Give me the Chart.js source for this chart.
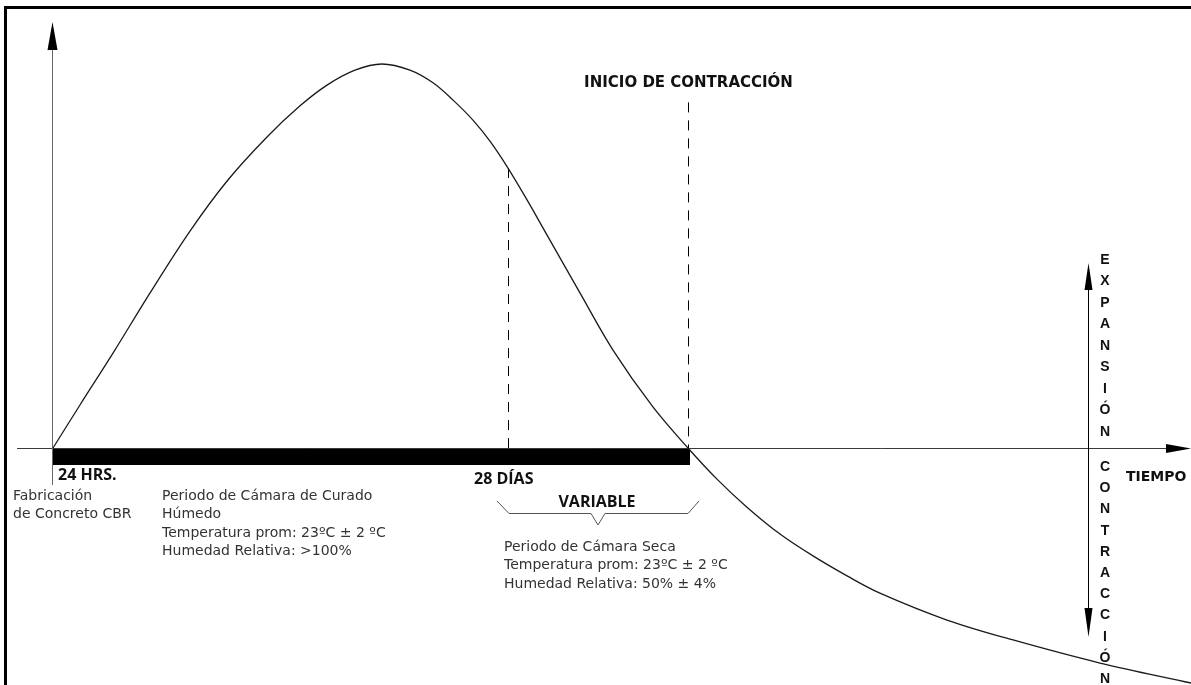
<!DOCTYPE html>
<html>
<head>
<meta charset="utf-8">
<script src="https://cdn.jsdelivr.net/npm/chart.js@4/dist/chart.umd.min.js"></script>
<style>
html,body{margin:0;padding:0;background:#fff;}
canvas{display:block;}
</style>
</head>
<body>
<canvas id="c" width="1191" height="685"></canvas>
<script>
// Curve: time (days) vs relative expansion (+) / contraction (-)
const curveDays   = [1.00, 2.60, 4.56, 6.76, 9.13, 11.38, 13.70, 15.66, 17.26, 18.92, 20.52, 22.18, 23.55, 24.74, 25.92, 26.93, 28.00, 29.13, 30.31, 32.27, 34.23, 36.60, 38.68, 40.40, 42.18, 44.14, 46.10, 48.12, 50.07, 54.05, 57.97, 63.13, 68.53];
const curveValues = [0, 11.2, 24.7, 40.4, 56.5, 69.8, 81.0, 89.1, 94.5, 98.4, 100, 98.4, 95.1, 90.6, 85.4, 79.9, 72.9, 64.6, 55.5, 40.4, 25.5, 10.7, 0, -8.1, -15.4, -22.4, -28.1, -33.3, -37.8, -44.8, -50.0, -56.0, -61.2];

// Milestones on the time axis
const milestoneDays   = [1, 28, 38.68];
const milestoneLabels = ['24 HRS.', '28 DÍAS', 'INICIO DE CONTRACCIÓN'];
const variableLabel = 'VARIABLE';
const inicioDashTop = 90;
const rightAxisDay = 62.42;

const axisTimeLabel = 'TIEMPO';
const expansionLabel = 'EXPANSIÓN';
const contractionLabel = 'CONTRACCIÓN';

const leftNote = ['Fabricación', 'de Concreto CBR'];
const curingNote = ['Periodo de Cámara de Curado', 'Húmedo', 'Temperatura prom: 23ºC ± 2 ºC', 'Humedad Relativa: >100%'];
const dryNote = ['Periodo de Cámara Seca', 'Temperatura prom: 23ºC ± 2 ºC', 'Humedad Relativa: 50% ± 4%'];

const X_MIN = -2.145, X_MAX = 68.53;
const Y_MIN = -61.72, Y_MAX = 116.67;

function arrow(ctx, tx, ty, bx, by, half) {
  const dx = tx - bx, dy = ty - by;
  const len = Math.hypot(dx, dy);
  const nx = -dy / len, ny = dx / len;
  ctx.beginPath();
  ctx.moveTo(tx, ty);
  ctx.lineTo(bx + nx * half, by + ny * half);
  ctx.lineTo(bx - nx * half, by - ny * half);
  ctx.closePath();
  ctx.fill();
}

const diagram = {
  id: 'diagram',
  beforeDatasetsDraw(chart) {
    const ctx = chart.ctx;
    const xs = chart.scales.x, ys = chart.scales.y;
    const y0 = Math.round(ys.getPixelForValue(0));
    const xStart = Math.round(xs.getPixelForValue(milestoneDays[0]));
    const x28 = Math.round(xs.getPixelForValue(milestoneDays[1]));
    const xIni = Math.round(xs.getPixelForValue(milestoneDays[2]));
    ctx.save();
    ctx.fillStyle = '#000';
    ctx.fillRect(xStart, y0, xIni + 2 - xStart, 17);
    ctx.strokeStyle = '#3a3a3a';
    ctx.lineWidth = 1;
    ctx.beginPath();
    ctx.moveTo(17, y0 + 0.5);
    ctx.lineTo(1170, y0 + 0.5);
    ctx.stroke();
    ctx.strokeStyle = '#666';
    ctx.beginPath();
    ctx.moveTo(xStart - 0.5, 48);
    ctx.lineTo(xStart - 0.5, y0 + 37);
    ctx.stroke();
    ctx.strokeStyle = '#000';
    ctx.setLineDash([10, 8]);
    const idx28 = curveDays.indexOf(milestoneDays[1]);
    ctx.beginPath();
    ctx.moveTo(x28 + 0.5, ys.getPixelForValue(curveValues[idx28]));
    ctx.lineTo(x28 + 0.5, y0);
    ctx.stroke();
    ctx.beginPath();
    ctx.moveTo(xIni + 0.5, ys.getPixelForValue(inicioDashTop));
    ctx.lineTo(xIni + 0.5, y0);
    ctx.stroke();
    ctx.setLineDash([]);
    ctx.restore();
  },
  afterDatasetsDraw(chart) {
    const ctx = chart.ctx;
    const xs = chart.scales.x, ys = chart.scales.y;
    const y0 = Math.round(ys.getPixelForValue(0));
    const xStart = Math.round(xs.getPixelForValue(milestoneDays[0]));
    const x28 = Math.round(xs.getPixelForValue(milestoneDays[1]));
    const xIni = Math.round(xs.getPixelForValue(milestoneDays[2]));
    const xR = Math.round(xs.getPixelForValue(rightAxisDay));
    ctx.save();
    ctx.fillStyle = '#000';
    arrow(ctx, xStart - 0.5, 22, xStart - 0.5, 50, 5);
    arrow(ctx, 1191, y0 + 0.5, 1166, y0 + 0.5, 4.5);
    ctx.strokeStyle = '#000';
    ctx.lineWidth = 1;
    ctx.beginPath();
    ctx.moveTo(xR + 0.5, 285);
    ctx.lineTo(xR + 0.5, 612);
    ctx.stroke();
    arrow(ctx, xR + 0.5, 263, xR + 0.5, 290, 4);
    arrow(ctx, xR + 0.5, 637, xR + 0.5, 608, 4);

    const bl = x28 - 11, br = xIni + 11, bc = (x28 + xIni) / 2;
    ctx.strokeStyle = '#555';
    ctx.beginPath();
    ctx.moveTo(bl, 501);
    ctx.lineTo(bl + 12, 513.5);
    ctx.lineTo(bc - 7, 513.5);
    ctx.lineTo(bc, 525);
    ctx.lineTo(bc + 7, 513.5);
    ctx.lineTo(br - 11, 513.5);
    ctx.lineTo(br, 501);
    ctx.stroke();

    ctx.fillStyle = '#111';
    ctx.textBaseline = 'alphabetic';
    ctx.textAlign = 'left';
    ctx.font = 'bold 16px "Open Sans"';
    ctx.fillText(milestoneLabels[0], xStart + 5, 480);
    ctx.fillText(milestoneLabels[1], x28 - 34, 484);
    ctx.textAlign = 'center';
    ctx.fillText(variableLabel, bc - 1, 507);
    ctx.font = 'bold 15px "DejaVu Sans"';
    ctx.fillText(milestoneLabels[2], xIni + 0.5, 87);
    ctx.textAlign = 'left';
    ctx.font = 'bold 14px "DejaVu Sans"';
    ctx.fillText(axisTimeLabel, 1126, 481);

    ctx.textAlign = 'center';
    ctx.font = 'bold 14px "Liberation Sans"';
    const lx = xR + 17;
    [...expansionLabel].forEach((ch, i) => ctx.fillText(ch, lx, 263.5 + i * 21.5));
    [...contractionLabel].forEach((ch, i) => ctx.fillText(ch, lx, 471 + i * 21.2));

    ctx.textAlign = 'left';
    ctx.fillStyle = '#333';
    ctx.font = '14px "DejaVu Sans"';
    leftNote.forEach((t, i) => ctx.fillText(t, 13, 500 + i * 17.5));
    curingNote.forEach((t, i) => ctx.fillText(t, 162, 500 + i * 18.3));
    dryNote.forEach((t, i) => ctx.fillText(t, x28 - 4, 550.5 + i * 18.8));

    ctx.fillStyle = '#000';
    ctx.fillRect(4, 6, 1191 - 4, 3);
    ctx.fillRect(4, 6, 3, 685 - 6);
    ctx.restore();
  }
};

new Chart(document.getElementById('c'), {
  type: 'line',
  data: {
    datasets: [{
      data: curveDays.map((d, i) => ({ x: d, y: curveValues[i] })),
      borderColor: '#1a1a1a',
      borderWidth: 1.3,
      pointRadius: 0,
      fill: false,
      tension: 0.35
    }]
  },
  options: {
    responsive: false,
    animation: false,
    layout: { padding: 0 },
    scales: {
      x: { type: 'linear', display: false, min: X_MIN, max: X_MAX },
      y: { type: 'linear', display: false, min: Y_MIN, max: Y_MAX }
    },
    plugins: { legend: { display: false }, tooltip: { enabled: false } }
  },
  plugins: [diagram]
});
</script>
</body>
</html>
